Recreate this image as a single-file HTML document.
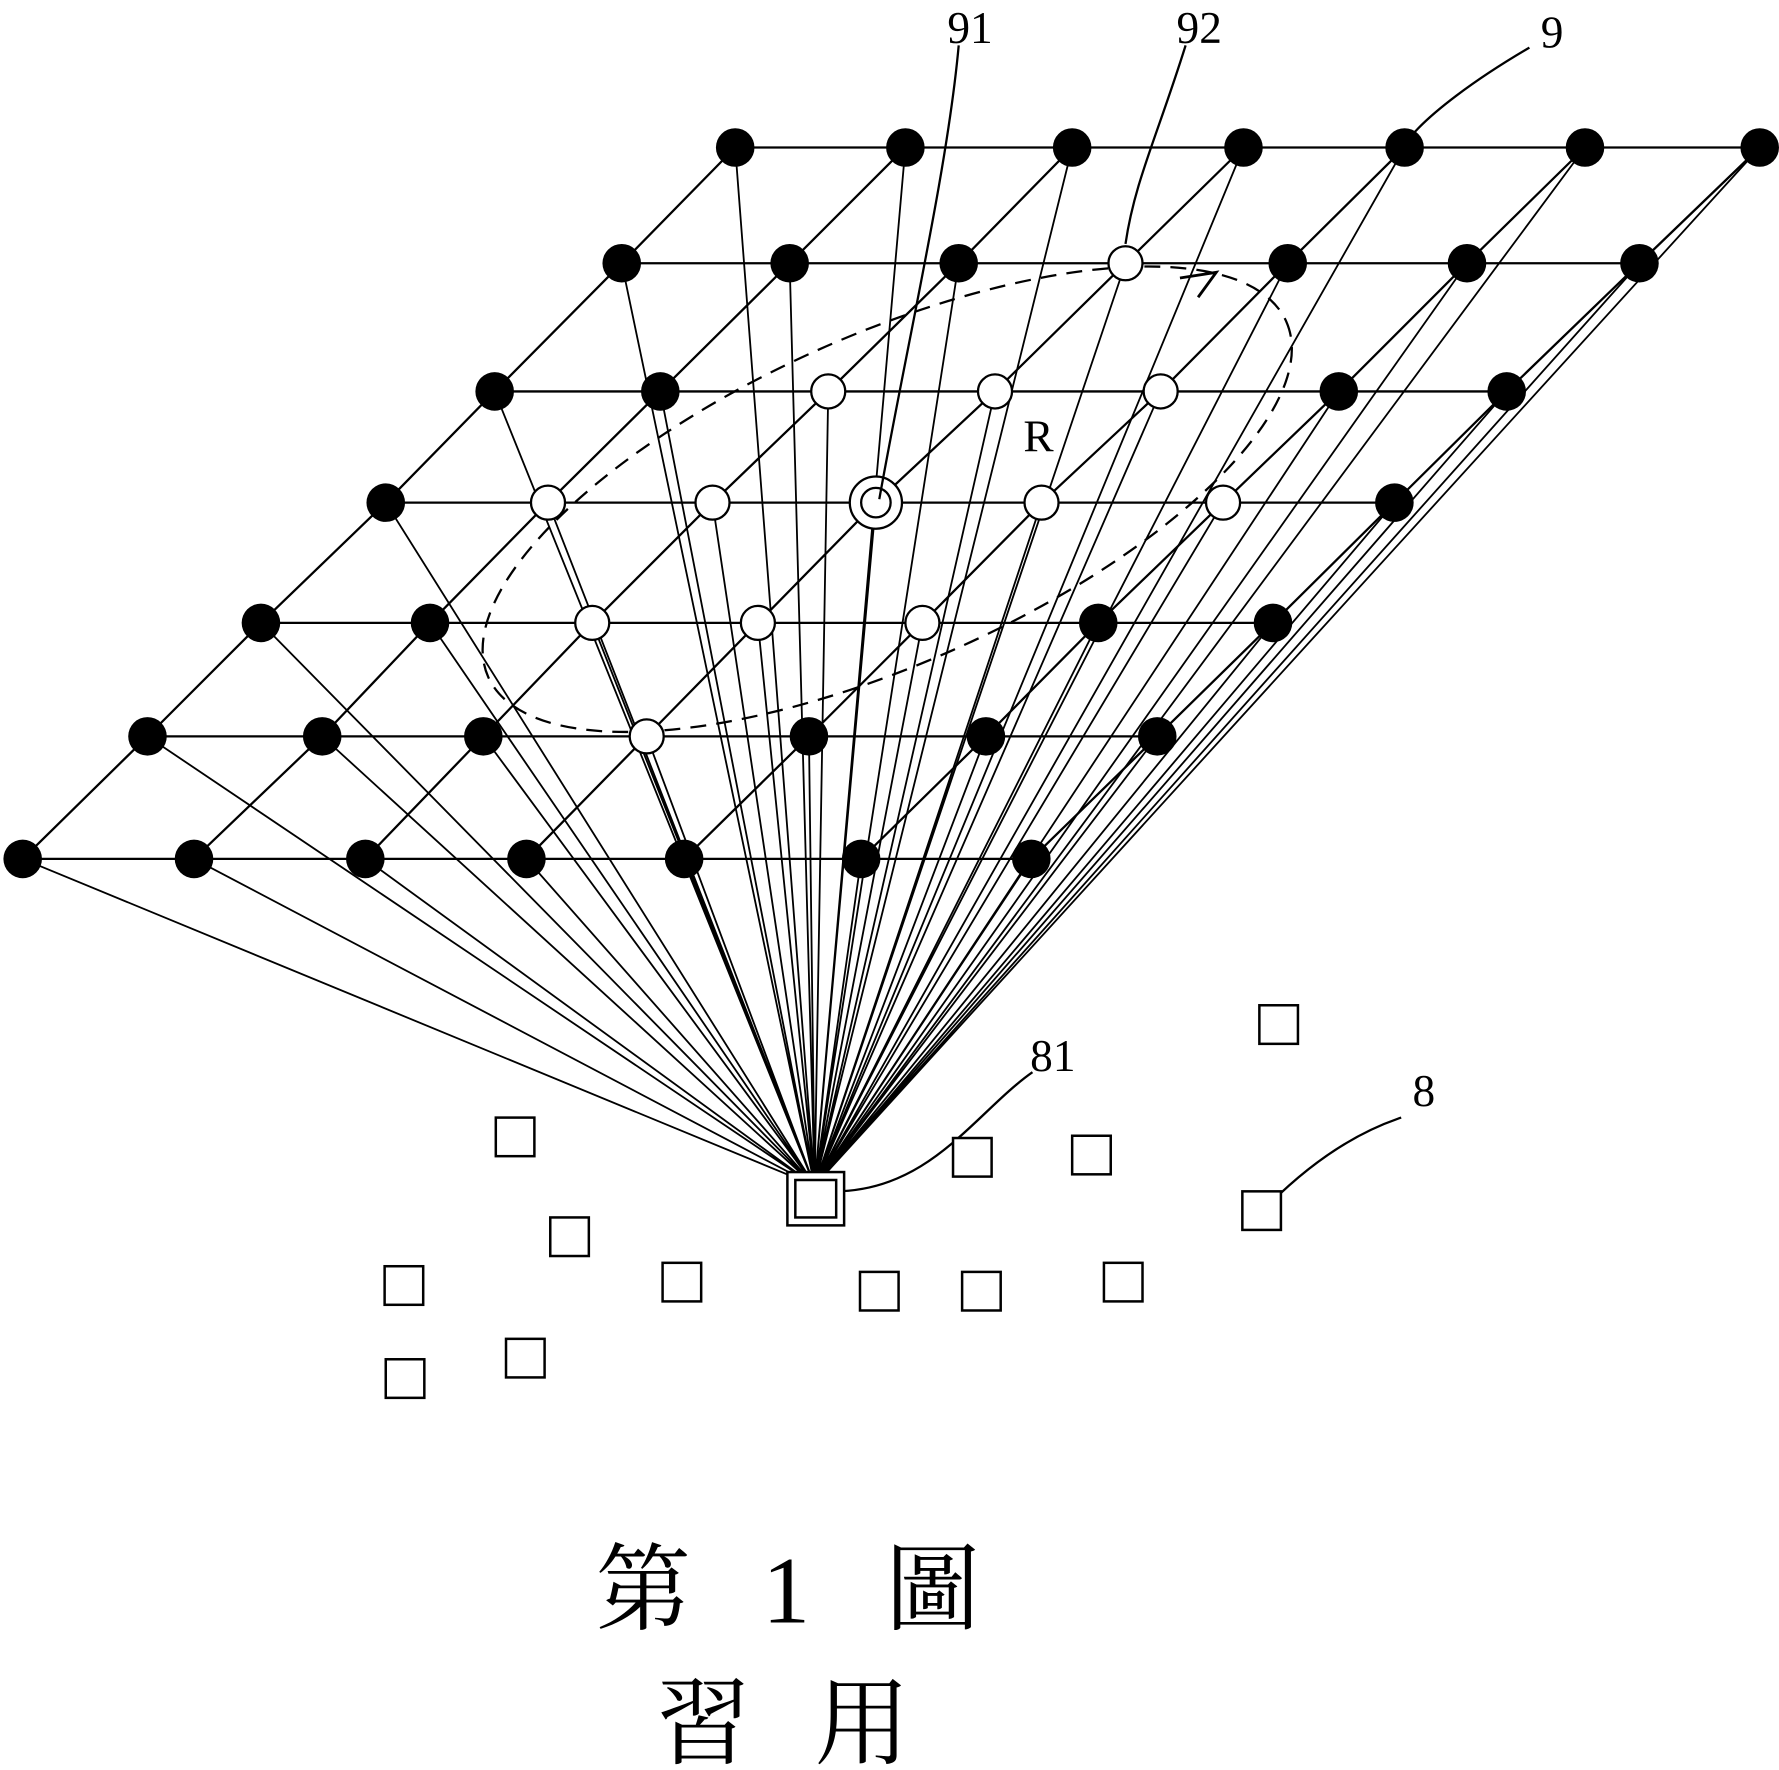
<!DOCTYPE html>
<html><head><meta charset="utf-8"><style>
html,body{margin:0;padding:0;background:#fff;}
svg{display:block}
</style></head><body>
<svg width="1779" height="1770" viewBox="0 0 1568 1560" preserveAspectRatio="none" xmlns="http://www.w3.org/2000/svg" font-family="Liberation Serif, serif">
<g stroke="#000" stroke-width="2" fill="none">
<line x1="648" y1="130" x2="1551" y2="130"/>
<line x1="548" y1="232" x2="1445" y2="232"/>
<line x1="436" y1="345" x2="1328" y2="345"/>
<line x1="340" y1="443" x2="1229" y2="443"/>
<line x1="230" y1="549" x2="1122" y2="549"/>
<line x1="130" y1="649" x2="1020" y2="649"/>
<line x1="20" y1="757" x2="909" y2="757"/>
<polyline points="648,130 548,232 436,345 340,443 230,549 130,649 20,757"/>
<polyline points="798,130 696,232 582,345 483,443 379,549 284,649 171,757"/>
<polyline points="945,130 845,232 730,345 628,443 522,549 426,649 322,757"/>
<polyline points="1096,130 992,232 877,345 772,443 668,549 570,649 464,757"/>
<polyline points="1238,130 1135,232 1023,345 918,443 813,549 713,649 603,757"/>
<polyline points="1397,130 1293,232 1180,345 1078,443 968,549 869,649 759,757"/>
<polyline points="1551,130 1445,232 1328,345 1229,443 1122,549 1020,649 909,757"/>
<path stroke-width="1.6" d="
M718 1045L648 130M718 1045L798 130M718 1045L945 130M718 1045L1096 130M718 1045L1238 130M718 1045L1397 130M718 1045L1551 130
M718 1045L548 232M718 1045L696 232M718 1045L845 232M718 1045L992 232M718 1045L1135 232M718 1045L1293 232M718 1045L1445 232
M718 1045L436 345M718 1045L582 345M718 1045L730 345M718 1045L877 345M718 1045L1023 345M718 1045L1180 345M718 1045L1328 345
M718 1045L340 443M718 1045L483 443M718 1045L628 443M718 1045L772 443M718 1045L918 443M718 1045L1078 443M718 1045L1229 443
M718 1045L230 549M718 1045L379 549M718 1045L522 549M718 1045L668 549M718 1045L813 549M718 1045L968 549M718 1045L1122 549
M718 1045L130 649M718 1045L284 649M718 1045L426 649M718 1045L570 649M718 1045L713 649M718 1045L869 649M718 1045L1020 649
M718 1045L20 757M718 1045L171 757M718 1045L322 757M718 1045L464 757M718 1045L603 757M718 1045L759 757M718 1045L909 757"/>
</g>
<ellipse cx="782" cy="440" rx="385" ry="145" transform="rotate(-24 782 440)" fill="none" stroke="#000" stroke-width="2" stroke-dasharray="14 9"/>
<g fill="#000">
<circle cx="648" cy="130" r="17"/><circle cx="798" cy="130" r="17"/><circle cx="945" cy="130" r="17"/><circle cx="1096" cy="130" r="17"/><circle cx="1238" cy="130" r="17"/><circle cx="1397" cy="130" r="17"/><circle cx="1551" cy="130" r="17"/>
<circle cx="548" cy="232" r="17"/><circle cx="696" cy="232" r="17"/><circle cx="845" cy="232" r="17"/><circle cx="1135" cy="232" r="17"/><circle cx="1293" cy="232" r="17"/><circle cx="1445" cy="232" r="17"/>
<circle cx="436" cy="345" r="17"/><circle cx="582" cy="345" r="17"/><circle cx="1180" cy="345" r="17"/><circle cx="1328" cy="345" r="17"/>
<circle cx="340" cy="443" r="17"/><circle cx="1229" cy="443" r="17"/>
<circle cx="230" cy="549" r="17"/><circle cx="379" cy="549" r="17"/><circle cx="968" cy="549" r="17"/><circle cx="1122" cy="549" r="17"/>
<circle cx="130" cy="649" r="17"/><circle cx="284" cy="649" r="17"/><circle cx="426" cy="649" r="17"/><circle cx="713" cy="649" r="17"/><circle cx="869" cy="649" r="17"/><circle cx="1020" cy="649" r="17"/>
<circle cx="20" cy="757" r="17"/><circle cx="171" cy="757" r="17"/><circle cx="322" cy="757" r="17"/><circle cx="464" cy="757" r="17"/><circle cx="603" cy="757" r="17"/><circle cx="759" cy="757" r="17"/><circle cx="909" cy="757" r="17"/>
</g>
<g fill="#fff" stroke="#000" stroke-width="2">
<circle cx="992" cy="232" r="15"/><circle cx="730" cy="345" r="15"/><circle cx="877" cy="345" r="15"/><circle cx="1023" cy="345" r="15"/>
<circle cx="483" cy="443" r="15"/><circle cx="628" cy="443" r="15"/><circle cx="918" cy="443" r="15"/><circle cx="1078" cy="443" r="15"/>
<circle cx="522" cy="549" r="15"/><circle cx="668" cy="549" r="15"/><circle cx="813" cy="549" r="15"/><circle cx="570" cy="649" r="15"/>
<circle cx="772" cy="443" r="23"/><circle cx="772" cy="443" r="13"/>
</g>
<g fill="none" stroke="#000" stroke-width="2">
<path d="M845 40 C835 150 800 300 775 440"/>
<path d="M1045 40 C1020 120 1000 160 992 215"/>
<path d="M1348 42 C1300 70 1260 100 1242 122"/>
<path d="M910 945 C860 980 820 1050 735 1050"/>
<path d="M1235 985 C1190 1000 1150 1030 1118 1062"/>
<polyline points="1040,245 1072,240 1056,262" stroke-width="2.5"/>
</g>
<g fill="#fff" stroke="#000" stroke-width="2.2">
<rect x="437" y="985" width="34" height="34"/><rect x="485" y="1073" width="34" height="34"/><rect x="339" y="1116" width="34" height="34"/>
<rect x="584" y="1113" width="34" height="34"/><rect x="340" y="1198" width="34" height="34"/><rect x="446" y="1180" width="34" height="34"/>
<rect x="840" y="1003" width="34" height="34"/><rect x="945" y="1001" width="34" height="34"/><rect x="1110" y="886" width="34" height="34"/>
<rect x="1095" y="1050" width="34" height="34"/><rect x="758" y="1121" width="34" height="34"/><rect x="848" y="1121" width="34" height="34"/>
<rect x="973" y="1113" width="34" height="34"/>
<rect x="694" y="1033" width="50" height="47"/><rect x="701" y="1040" width="36" height="33"/>
</g>
<g font-size="40">
<text x="835" y="38">91</text>
<text x="1037" y="38">92</text>
<text x="1358" y="42">9</text>
<text x="902" y="398">R</text>
<text x="908" y="944">81</text>
<text x="1245" y="975">8</text>
</g>
<g font-family="Liberation Serif, 'Noto Serif CJK SC', serif" font-size="84">
<text x="525" y="1430">第</text>
<text x="672" y="1430">1</text>
<text x="780" y="1430">圖</text>
<text x="578" y="1548">習</text>
<text x="718" y="1548">用</text>
</g>
</svg>
</body></html>
